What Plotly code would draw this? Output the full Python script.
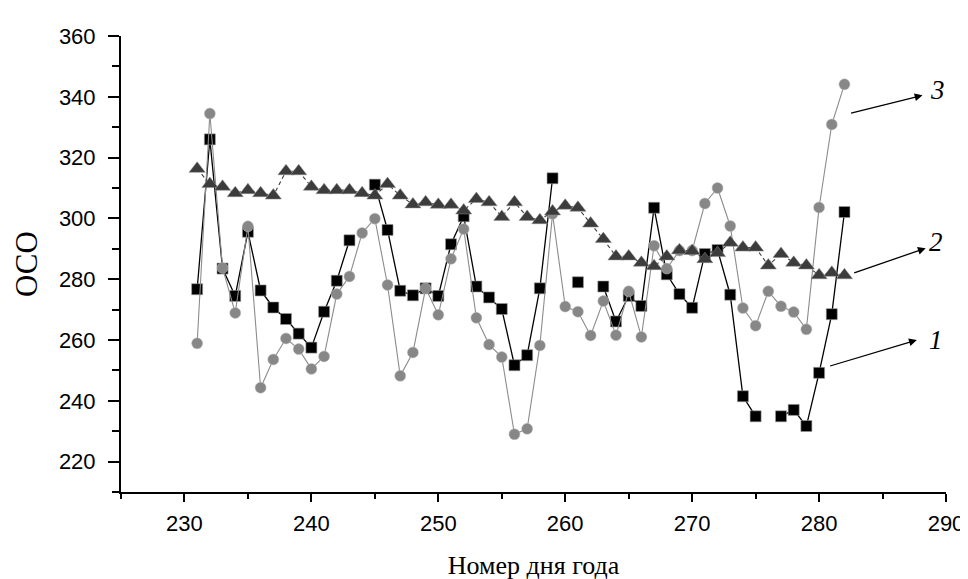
import plotly.graph_objects as go

days = list(range(231, 283))

series1 = [276.7, 326.0, 283.5, 274.5, 295.6, 276.3, 270.7, 266.9, 262.1, 257.5,
           269.3, 279.5, 292.8, None, 311.1, 296.2, 276.2, 274.7, 277.0, 274.5,
           291.5, 300.7, 277.6, 274.0, 270.2, 251.7, 255.0, 277.0, 313.2, None,
           279.0, None, 277.6, 266.1, 274.5, 271.2, 303.5, 281.6, 275.1, 270.6,
           288.3, 289.6, 274.9, 241.5, 234.9, None, 234.9, 237.0, 231.7, 249.2,
           268.5, 302.1]

series2 = [316.3, 311.3, 310.4, 308.3, 309.3, 308.3, 307.5, 315.5, 315.5, 310.4,
           309.3, 309.3, 309.3, 308.3, 307.5, 311.3, 307.5, 304.6, 305.3, 304.5,
           304.5, 302.6, 306.4, 305.3, 300.5, 305.3, 300.5, 299.4, 302.3, 304.2,
           303.5, 298.3, 293.2, 287.5, 287.5, 285.4, 284.3, 287.5, 289.5, 289.3,
           286.6, 288.6, 292.0, 290.4, 290.4, 284.5, 288.3, 285.4, 284.5, 281.3,
           282.1, 281.3]

series3 = [258.9, 334.5, 283.7, 268.9, 297.4, 244.3, 253.6, 260.5, 257.0, 250.5,
           254.6, 275.1, 280.9, 295.2, 299.9, 278.1, 248.2, 255.9, 277.0, 268.3,
           286.7, 296.5, 267.3, 258.5, 254.4, 229.0, 230.8, 258.2, 301.5, 271.0,
           269.3, 261.5, 272.8, 261.6, 276.0, 261.0, 291.0, 283.5, 289.4, 289.4,
           304.9, 310.0, 297.5, 270.5, 264.7, 276.0, 271.1, 269.2, 263.5, 303.6,
           330.9, 344.1]

x_ticks = [230, 240, 250, 260, 270, 280, 290]
y_ticks = [220, 240, 260, 280, 300, 320, 340, 360]

fig = go.Figure()

fig.add_trace(go.Scatter(
    x=days, y=series1, mode="lines+markers", name="1",
    line=dict(color="#000000", width=1.3),
    marker=dict(symbol="square", size=11, color="#000000",
                line=dict(color="#9a9a9a", width=0.6)),
    connectgaps=False,
))
fig.add_trace(go.Scatter(
    x=days, y=series3, mode="lines+markers", name="3",
    line=dict(color="#8c8c8c", width=1.1),
    marker=dict(symbol="circle", size=11, color="#878787",
                line=dict(color="#bdbdbd", width=0.5)),
))
fig.add_trace(go.Scatter(
    x=days, y=series2, mode="lines+markers", name="2",
    line=dict(color="#3c3c3c", width=1.1, dash="4px,3px"),
    marker=dict(symbol="triangle-up", size=14, color="#3c3c3c",
                line=dict(color="#8a8a8a", width=0.5)),
))

lab_font = dict(family="Liberation Serif, Times New Roman, serif", size=27, color="#000000")
arrows = [
    dict(tail=(282.4, 334.5), head=(288.15, 340.5), label="3", pos=(289.3, 342.3)),
    dict(tail=(282.65, 281.9), head=(288.4, 290.2), label="2", pos=(289.25, 292.4)),
    dict(tail=(280.75, 251.3), head=(287.7, 260.0), label="1", pos=(289.2, 260.0)),
]
for a in arrows:
    fig.add_annotation(x=a["head"][0], y=a["head"][1], ax=a["tail"][0], ay=a["tail"][1],
                       xref="x", yref="y", axref="x", ayref="y", text="",
                       showarrow=True, arrowhead=2, arrowsize=1.2, arrowwidth=1.3,
                       arrowcolor="#000000", standoff=0, startstandoff=0)
    fig.add_annotation(x=a["pos"][0], y=a["pos"][1], xref="x", yref="y",
                       text="<i>" + a["label"] + "</i>", showarrow=False,
                       font=lab_font, xanchor="center", yanchor="middle")

fig.update_layout(
    width=968, height=579,
    margin=dict(l=113, r=21, t=28, b=87),
    paper_bgcolor="white", plot_bgcolor="white",
    showlegend=False,
    font=dict(family="Liberation Sans, Arial, sans-serif", size=22, color="#000000"),
)

fig.update_xaxes(
    range=[225, 290], tickvals=x_ticks, ticktext=[str(v) for v in x_ticks],
    ticks="outside", ticklen=8, tickwidth=2, tickcolor="#000000",
    minor=dict(dtick=5, tick0=225, ticks="outside", ticklen=5, tickwidth=2, tickcolor="#000000"),
    showline=True, linewidth=2, linecolor="#000000", showgrid=False, zeroline=False,
    tickfont=dict(family="Liberation Sans, Arial, sans-serif", size=22),
    ticklabelstandoff=3,
    title=dict(text="Номер дня года", standoff=20,
               font=dict(family="Liberation Serif, Times New Roman, serif", size=26)),
)
fig.update_yaxes(
    range=[210, 360], tickvals=y_ticks, ticktext=[str(v) for v in y_ticks],
    ticks="outside", ticklen=11, tickwidth=2, tickcolor="#000000",
    minor=dict(dtick=10, tick0=210, ticks="outside", ticklen=7, tickwidth=2, tickcolor="#000000"),
    showline=True, linewidth=2, linecolor="#000000", showgrid=False, zeroline=False,
    tickfont=dict(family="Liberation Sans, Arial, sans-serif", size=22),
    ticklabelstandoff=8,
    title=dict(text="ОСО", standoff=12,
               font=dict(family="Liberation Serif, Times New Roman, serif", size=31)),
)

fig.write_html("out.html")
